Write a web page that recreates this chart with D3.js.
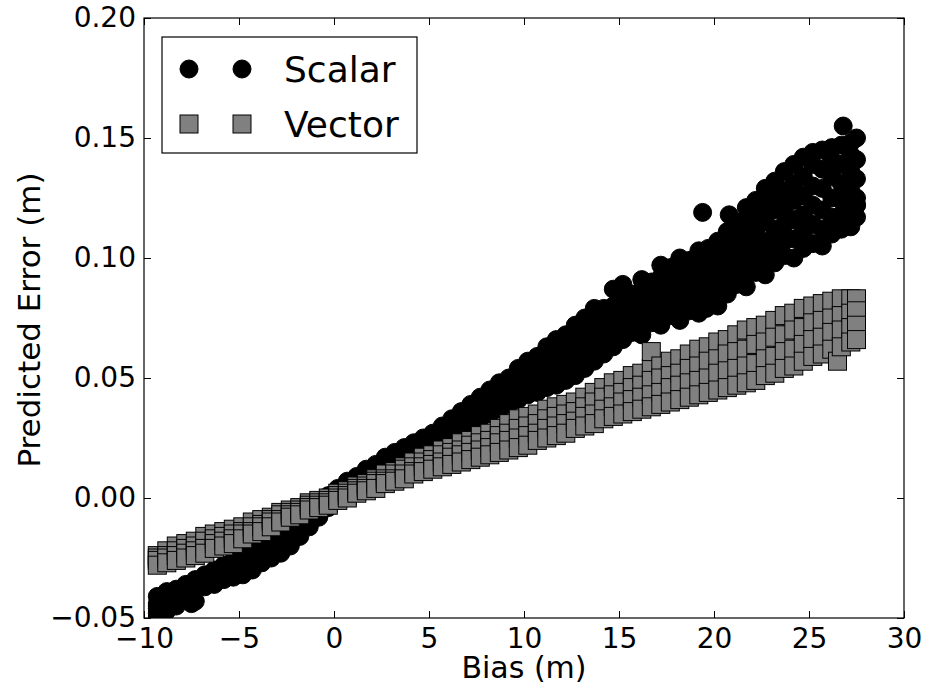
<!DOCTYPE html>
<html>
<head>
<meta charset="utf-8">
<script src="https://cdn.jsdelivr.net/npm/d3@7"></script>
<style>
  body { margin: 0; background: #fff; }
  svg { display: block; font-family: "DejaVu Sans", sans-serif; }
</style>
</head>
<body>
<svg id="chart" width="927" height="686"></svg>
<script>
'use strict';

// bias columns (m)
const BIAS = [-9.3,-8.8,-8.3,-7.8,-7.3,-6.8,-6.3,-5.8,-5.3,-4.8,-4.3,-3.8,-3.3,-2.8,-2.3,-1.8,-1.3,-0.8,-0.3,0.2,
  0.7,1.2,1.7,2.2,2.7,3.2,3.7,4.2,4.7,5.2,5.7,6.2,6.7,7.2,7.7,8.2,8.7,9.2,9.7,10.2,
  10.7,11.2,11.7,12.2,12.7,13.2,13.7,14.2,14.7,15.2,15.7,16.2,16.7,17.2,17.7,18.2,18.7,19.2,19.7,20.2,
  20.7,21.2,21.7,22.2,22.7,23.2,23.7,24.2,24.7,25.2,25.7,26.2,26.7,27.2,27.5];

// scalar predicted error, several samples per bias column
const SCALAR_A = [-0.041,-0.039,-0.038,-0.036,-0.034,-0.032,-0.030,-0.028,-0.026,-0.024,
  -0.021,-0.019,-0.016,-0.014,-0.011,-0.008,-0.005,-0.002,0.001,0.004,
  0.007,0.009,0.012,0.014,0.017,0.019,0.021,0.023,0.025,0.027,
  0.030,0.033,0.036,0.039,0.042,0.045,0.048,0.050,0.054,0.057,
  0.059,0.063,0.066,0.068,0.072,0.075,0.079,0.079,0.087,0.089,
  0.085,0.091,0.090,0.097,0.093,0.100,0.096,0.103,0.101,0.107,
  0.111,0.113,0.121,0.118,0.129,0.127,0.136,0.131,0.142,0.139,
  0.145,0.141,0.147,0.143,0.150];
const SCALAR_B = [-0.044,-0.042,-0.039,-0.038,-0.035,-0.034,-0.032,-0.030,-0.028,-0.026,
  -0.024,-0.021,-0.019,-0.016,-0.013,-0.010,-0.007,-0.004,0.000,0.003,
  0.005,0.008,0.010,0.013,0.015,0.017,0.019,0.021,0.023,0.026,
  0.028,0.031,0.034,0.037,0.039,0.042,0.045,0.048,0.050,0.053,
  0.056,0.059,0.061,0.064,0.067,0.070,0.073,0.076,0.080,0.085,
  0.082,0.086,0.087,0.092,0.096,0.095,0.099,0.098,0.104,0.102,
  0.105,0.115,0.114,0.124,0.122,0.132,0.128,0.139,0.134,0.144,
  0.137,0.146,0.139,0.148,0.141];
const SCALAR_C = [-0.046,-0.043,-0.041,-0.039,-0.037,-0.035,-0.033,-0.031,-0.030,-0.028,
  -0.026,-0.023,-0.021,-0.018,-0.015,-0.012,-0.009,-0.005,-0.001,0.002,
  0.004,0.006,0.008,0.011,0.013,0.015,0.017,0.020,0.022,0.024,
  0.027,0.029,0.032,0.035,0.037,0.040,0.043,0.045,0.047,0.050,
  0.052,0.055,0.057,0.059,0.062,0.065,0.068,0.071,0.074,0.080,
  0.078,0.082,0.083,0.087,0.088,0.090,0.092,0.093,0.096,0.096,
  0.099,0.107,0.108,0.112,0.115,0.120,0.121,0.124,0.126,0.130,
  0.129,0.134,0.131,0.136,0.133];
const SCALAR_D = [-0.048,-0.046,-0.043,-0.040,-0.038,-0.036,-0.034,-0.033,-0.031,-0.030,
  -0.028,-0.025,-0.023,-0.021,-0.018,-0.014,-0.010,-0.007,-0.003,0.000,
  0.002,0.004,0.007,0.009,0.011,0.013,0.016,0.018,0.020,0.023,
  0.025,0.027,0.030,0.033,0.035,0.037,0.040,0.042,0.044,0.046,
  0.048,0.050,0.052,0.054,0.057,0.059,0.062,0.065,0.068,0.075,
  0.075,0.076,0.079,0.081,0.084,0.084,0.087,0.087,0.091,0.090,
  0.094,0.101,0.101,0.106,0.107,0.112,0.114,0.116,0.118,0.122,
  0.120,0.125,0.124,0.128,0.125];
const SCALAR_E = [-0.050,-0.047,-0.045,-0.042,-0.043,-0.037,-0.036,-0.034,-0.033,-0.032,
  -0.030,-0.027,-0.025,-0.023,-0.020,-0.016,-0.012,-0.008,-0.004,-0.001,
  0.001,0.003,0.005,0.007,0.009,0.011,0.014,0.016,0.019,0.021,
  0.023,0.026,0.028,0.031,0.033,0.035,0.037,0.039,0.041,0.043,
  0.044,0.046,0.047,0.049,0.051,0.054,0.057,0.060,0.063,0.066,
  0.069,0.068,0.073,0.072,0.076,0.074,0.078,0.077,0.082,0.080,
  0.085,0.089,0.088,0.094,0.093,0.098,0.101,0.100,0.104,0.106,
  0.105,0.110,0.112,0.113,0.117];
const SCALAR_F = [-0.045,-0.043,-0.040,-0.038,-0.036,-0.034,-0.033,-0.031,-0.029,-0.027,
  -0.025,-0.022,-0.020,-0.017,-0.014,-0.011,-0.008,-0.005,-0.001,0.002,
  0.005,0.007,0.009,0.012,0.014,0.016,0.018,0.020,0.022,0.025,
  0.027,0.030,0.033,0.036,0.038,0.041,0.044,0.046,0.049,0.051,
  0.054,0.057,0.059,0.062,0.065,0.068,0.071,0.073,0.077,0.070,
  0.072,0.072,0.076,0.077,0.080,0.079,0.083,0.082,0.086,0.085,
  0.089,0.095,0.094,0.100,0.100,0.105,0.107,0.108,0.111,0.114,
  0.112,0.117,0.118,0.120,0.122];
const SCALAR_EXTRA_X = [-7.5, 19.4, 20.8, 26.8, 19.6, 27.5];
const SCALAR_EXTRA_Y = [-0.044, 0.119, 0.118, 0.155, 0.079, 0.122];

// vector predicted error
const VECTOR_A = [-0.024,-0.022,-0.020,-0.019,-0.018,-0.016,-0.015,-0.014,-0.013,-0.012,
  -0.010,-0.009,-0.008,-0.006,-0.005,-0.004,-0.002,-0.001,0.000,0.002,
  0.003,0.005,0.006,0.008,0.010,0.011,0.013,0.015,0.017,0.018,
  0.020,0.021,0.023,0.024,0.026,0.027,0.029,0.031,0.033,0.034,
  0.035,0.037,0.038,0.039,0.040,0.042,0.044,0.046,0.048,0.049,
  0.051,0.052,0.054,0.055,0.057,0.058,0.060,0.062,0.063,0.065,
  0.066,0.068,0.070,0.071,0.072,0.074,0.076,0.077,0.079,0.080,
  0.081,0.082,0.083,0.083,0.083];
const VECTOR_B = [-0.025,-0.024,-0.022,-0.021,-0.020,-0.018,-0.017,-0.016,-0.015,-0.014,
  -0.012,-0.011,-0.009,-0.007,-0.006,-0.005,-0.003,-0.002,-0.001,0.001,
  0.002,0.004,0.005,0.007,0.008,0.010,0.012,0.013,0.015,0.016,
  0.018,0.019,0.020,0.022,0.023,0.024,0.026,0.027,0.029,0.030,
  0.031,0.033,0.034,0.035,0.036,0.038,0.040,0.042,0.043,0.044,
  0.046,0.047,0.049,0.050,0.051,0.052,0.054,0.055,0.057,0.058,
  0.060,0.061,0.062,0.064,0.065,0.067,0.068,0.070,0.071,0.073,
  0.074,0.075,0.076,0.077,0.078];
const VECTOR_C = [-0.026,-0.025,-0.024,-0.023,-0.022,-0.021,-0.019,-0.018,-0.017,-0.015,
  -0.014,-0.012,-0.010,-0.009,-0.007,-0.006,-0.004,-0.003,-0.002,0.000,
  0.001,0.003,0.004,0.006,0.007,0.008,0.010,0.011,0.013,0.014,
  0.015,0.017,0.018,0.019,0.020,0.021,0.023,0.024,0.025,0.026,
  0.027,0.029,0.030,0.031,0.032,0.034,0.035,0.037,0.038,0.040,
  0.041,0.042,0.043,0.044,0.046,0.047,0.048,0.049,0.050,0.052,
  0.053,0.054,0.055,0.056,0.058,0.059,0.061,0.062,0.064,0.066,
  0.067,0.069,0.070,0.071,0.072];
const VECTOR_D = [-0.028,-0.027,-0.026,-0.025,-0.024,-0.023,-0.021,-0.020,-0.019,-0.017,
  -0.015,-0.014,-0.012,-0.010,-0.008,-0.007,-0.005,-0.004,-0.003,-0.001,
  0.000,0.002,0.003,0.004,0.006,0.007,0.008,0.010,0.011,0.012,
  0.013,0.014,0.015,0.016,0.017,0.018,0.019,0.020,0.021,0.022,
  0.024,0.025,0.026,0.027,0.029,0.030,0.031,0.033,0.034,0.035,
  0.036,0.037,0.038,0.039,0.040,0.041,0.042,0.043,0.044,0.045,
  0.046,0.047,0.048,0.049,0.051,0.052,0.054,0.055,0.057,0.059,
  0.060,0.062,0.063,0.065,0.066];
const VECTOR_EXTRA_X = [16.7, 26.5];
const VECTOR_EXTRA_Y = [0.061, 0.057];

const X_TICKS = [-10, -5, 0, 5, 10, 15, 20, 25, 30];
const Y_TICKS = [-0.05, 0.00, 0.05, 0.10, 0.15, 0.20];

function toPoints(columns, extraX, extraY) {
  const pts = [];
  BIAS.forEach((b, i) => columns.forEach(col => pts.push({ x: b, y: col[i] })));
  extraX.forEach((b, i) => pts.push({ x: b, y: extraY[i] }));
  return pts.sort((a, b) => a.x - b.x);
}

const scalarPts = toPoints([SCALAR_A, SCALAR_B, SCALAR_C, SCALAR_D, SCALAR_E, SCALAR_F], SCALAR_EXTRA_X, SCALAR_EXTRA_Y);
const vectorPts = toPoints([VECTOR_A, VECTOR_B, VECTOR_C, VECTOR_D], VECTOR_EXTRA_X, VECTOR_EXTRA_Y);

const W = 927, H = 686;
const M = { left: 144, top: 18, right: 23, bottom: 68 };
const x = d3.scaleLinear().domain([-10, 30]).range([M.left, W - M.right]);
const y = d3.scaleLinear().domain([-0.05, 0.20]).range([H - M.bottom, M.top]);

const svg = d3.select('#chart');

svg.append('defs').append('clipPath').attr('id', 'plot-clip')
  .append('rect')
  .attr('x', M.left).attr('y', M.top)
  .attr('width', W - M.left - M.right).attr('height', H - M.top - M.bottom);

const plot = svg.append('g').attr('clip-path', 'url(#plot-clip)');
const R = 9, S = 18;

plot.append('g').selectAll('circle')
  .data(scalarPts)
  .join('circle')
  .attr('cx', d => x(d.x))
  .attr('cy', d => y(d.y))
  .attr('r', R)
  .attr('fill', '#000')
  .attr('stroke', '#000')
  .attr('stroke-width', 1);

plot.append('g').selectAll('rect')
  .data(vectorPts)
  .join('rect')
  .attr('x', d => x(d.x) - S / 2)
  .attr('y', d => y(d.y) - S / 2)
  .attr('width', S)
  .attr('height', S)
  .attr('fill', '#808080')
  .attr('stroke', '#000')
  .attr('stroke-width', 1);

// axes, matplotlib-style inward ticks on all sides
const fontSize = 28;
const styleAxis = g => {
  g.select('.domain').remove();
  g.selectAll('.tick line').attr('stroke', '#000').attr('stroke-width', 1);
  g.selectAll('.tick text').attr('fill', '#000').attr('font-size', fontSize).attr('font-family', '"DejaVu Sans", sans-serif');
};

svg.append('g')
  .attr('transform', `translate(0,${H - M.bottom})`)
  .call(d3.axisBottom(x).tickValues(X_TICKS).tickSizeInner(-7).tickSizeOuter(0).tickPadding(10))
  .call(styleAxis);

svg.append('g')
  .attr('transform', `translate(0,${M.top})`)
  .call(d3.axisTop(x).tickValues(X_TICKS).tickSizeInner(-7).tickSizeOuter(0).tickFormat(() => ''))
  .call(styleAxis);

svg.append('g')
  .attr('transform', `translate(${M.left},0)`)
  .call(d3.axisLeft(y).tickValues(Y_TICKS).tickFormat(d3.format('.2f')).tickSizeInner(-7).tickSizeOuter(0).tickPadding(8))
  .call(styleAxis);

svg.append('g')
  .attr('transform', `translate(${W - M.right},0)`)
  .call(d3.axisRight(y).tickValues(Y_TICKS).tickSizeInner(-7).tickSizeOuter(0).tickFormat(() => ''))
  .call(styleAxis);

svg.append('rect')
  .attr('x', M.left).attr('y', M.top)
  .attr('width', W - M.left - M.right).attr('height', H - M.top - M.bottom)
  .attr('fill', 'none').attr('stroke', '#000').attr('stroke-width', 1.2);

// axis labels
svg.append('text')
  .attr('x', (M.left + W - M.right) / 2)
  .attr('y', 678)
  .attr('text-anchor', 'middle')
  .attr('font-size', 30)
  .text('Bias (m)');

svg.append('text')
  .attr('transform', 'translate(40,320) rotate(-90)')
  .attr('text-anchor', 'middle')
  .attr('font-size', 31)
  .text('Predicted Error (m)');

// legend
const legend = svg.append('g');
legend.append('rect')
  .attr('x', 162).attr('y', 37).attr('width', 255).attr('height', 116)
  .attr('fill', '#fff').attr('stroke', '#000').attr('stroke-width', 1.2);

const LEGEND_ROWS = [
  { label: 'Scalar', kind: 'circle', cy: 69 },
  { label: 'Vector', kind: 'square', cy: 124 },
];
const LEGEND_MARK_X = [189, 242];

LEGEND_ROWS.forEach(row => {
  LEGEND_MARK_X.forEach(mx => {
    if (row.kind === 'circle') {
      legend.append('circle').attr('cx', mx).attr('cy', row.cy).attr('r', R)
        .attr('fill', '#000').attr('stroke', '#000');
    } else {
      legend.append('rect').attr('x', mx - S / 2).attr('y', row.cy - S / 2)
        .attr('width', S).attr('height', S)
        .attr('fill', '#808080').attr('stroke', '#000');
    }
  });
  legend.append('text')
    .attr('x', 284).attr('y', row.cy + 13)
    .attr('font-size', 36)
    .text(row.label);
});
</script>
</body>
</html>
